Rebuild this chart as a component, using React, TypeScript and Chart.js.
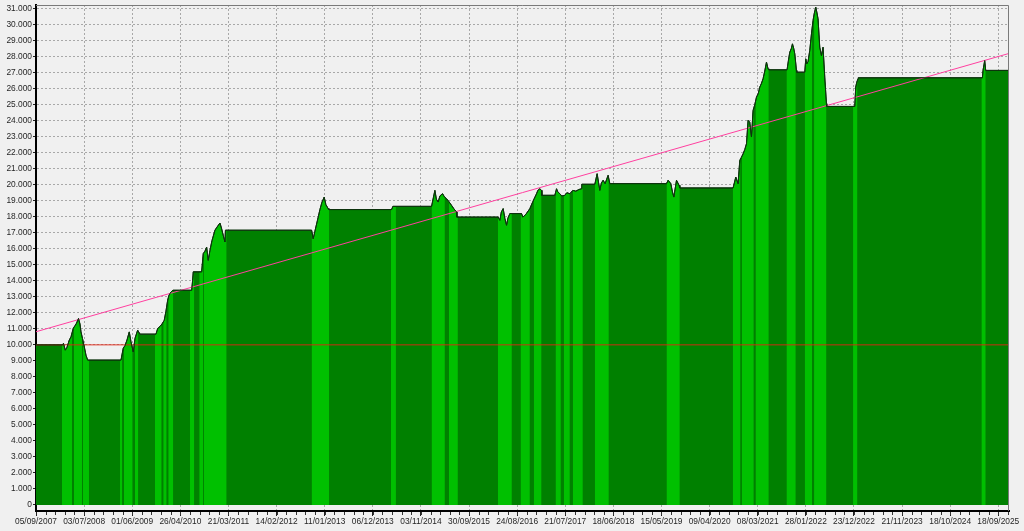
import React, { useEffect, useRef } from 'react';
import { Chart, registerables } from 'chart.js';

Chart.register(...registerables);

// ---- data ----
const DATE_LABELS = [
  '05/09/2007', '03/07/2008', '01/06/2009', '26/04/2010', '21/03/2011', '14/02/2012',
  '11/01/2013', '06/12/2013', '03/11/2014', '30/09/2015', '24/08/2016', '21/07/2017',
  '18/06/2018', '15/05/2019', '09/04/2020', '08/03/2021', '28/01/2022', '23/12/2022',
  '21/11/2023', '18/10/2024', '18/09/2025',
];
const BARS_PER_LABEL = 48.13;
const MINOR_PER_LABEL = 5;
const LAST_BAR = 973.3;

// equity curve: bar index and balance
const EQUITY_X = [
  0, 26.7, 27.5, 29.3, 31, 33.3, 35, 37.3, 39, 40.5, 42.5, 44, 45, 46.5, 48.3, 50, 51.7,
  85, 87.3, 89, 91, 93.3, 95, 97.3, 99, 101.7, 104,
  120, 121.7, 124, 126, 128.3, 130, 131.7, 133, 135, 137,
  155.7, 156.7, 157.3,
  165.7, 167.3, 169, 170.7, 172.3, 174, 176, 179, 181, 184, 185.5, 187.3, 189, 189.5,
  275.7, 277.3, 279, 282.3, 284, 286, 288.3, 290, 292.3, 293,
  355.7, 357,
  395.7, 399, 400.5, 402.3, 404, 406.7, 408.5, 410.7, 413, 415.7, 418, 420.7, 421,
  462.3, 464, 465.5, 467.3, 469, 470.7, 472, 474,
  485.7, 487, 490, 494, 497, 500.7, 502, 504, 505.7, 506,
  519, 520.7, 522, 524, 526, 529, 531, 534, 537, 540, 543, 545.7, 546,
  559, 561.3, 564, 565.5, 567.3, 569.3, 572.3, 574,
  630.7, 632.3, 635, 636.5, 638, 640.7, 643.3, 644,
  697.3, 700, 702.3, 704, 705.5, 707.3, 709, 710.7, 712.3, 714, 715.7, 717.3, 719, 720.7, 722.5, 724, 725.5,
  727.3, 729, 730.7, 732.3, 733,
  751.3, 752.5, 754, 755.5, 756.7, 758, 759, 760.7, 761,
  769, 770, 771, 772.3, 774, 775.7, 777.3, 778.5, 780, 781, 782.3, 784, 785.7, 787.3, 789, 790.7, 791,
  819, 820, 821, 822.3, 822.5,
  946.7, 947.3, 949, 950,
  973.3,
];
const EQUITY_Y = [
  10000, 10000, 10100, 9670, 9850, 10300, 10500, 11040, 11200, 11350, 11650, 11300, 10810, 10400, 9880, 9350, 9050,
  9050, 9800, 9950, 10300, 10810, 10200, 9560, 10400, 10920, 10670,
  10670, 11020, 11150, 11300, 11540, 12100, 12790, 13100, 13300, 13410,
  13410, 14040, 14560,
  14560, 15700, 15850, 16110, 15280, 15900, 16500, 17160, 17350, 17610, 17300, 16840, 16430, 17160,
  17160, 16630, 17100, 17980, 18450, 18900, 19230, 18750, 18510, 18450,
  18450, 18650,
  18650, 19650, 19100, 18920, 19300, 19440, 19250, 19130, 18950, 18710, 18500, 18300, 17980,
  17980, 17780, 18300, 18510, 17900, 17470, 17900, 18200,
  18200, 17980, 18150, 18510, 18950, 19440, 19650, 19750, 19650, 19340,
  19340, 19750, 19550, 19440, 19300, 19340, 19500, 19440, 19650, 19600, 19700, 19750, 20030,
  20030, 20690, 19650, 20100, 20280, 20070, 20590, 20070,
  20070, 20280, 20070, 19600, 19230, 20280, 19960, 19800,
  19800, 20480, 20070, 21520, 21700, 21930, 22200, 22560, 24020, 23900, 22980, 24640, 25000, 25470, 25700, 26100, 26300,
  26620, 27100, 27660, 27240, 27180,
  27180, 27700, 28280, 28500, 28800, 28500, 28180, 27140, 27030,
  27030, 27860, 27550, 27700, 28380, 29420, 30260, 30700, 31090, 30800, 30360, 28590, 28070, 28590, 26720, 25060, 24890,
  24890, 26100, 26400, 26620, 26680,
  26680, 27140, 27760, 27140,
  27140,
];

// periods with open trades (bar index start / end)
const ACTIVE_START = [
  26, 38, 47, 84, 88, 99, 119, 127.3, 132.3, 154, 163.3, 168, 275.7, 355, 395.7, 413,
  462, 484.7, 498, 519.7, 528, 537, 559, 630.7, 697, 706, 719.7, 750.7, 769, 778.3, 817.3, 945.7,
];
const ACTIVE_END = [
  36, 46, 53, 86.3, 96.7, 102.3, 125.7, 130.7, 137.3, 158.3, 167.3, 190.7, 293.3, 360, 409, 422,
  476, 494, 505.7, 525, 534, 547, 573, 644, 704.7, 718, 733, 760, 776.3, 790.7, 821.7, 950,
];

const START_BALANCE = 10000;
const TREND_FIRST = 10820;
const TREND_LAST = 28200;

const Y_MIN = -375;
const Y_MAX = 31225;
const Y_TOP_TICK = 31000;
const Y_STEP = 1000;

// ---- helpers ----
function equityAt(x: number): number {
  for (let i = 0; i < EQUITY_X.length - 1; i++) {
    const x0 = EQUITY_X[i], x1 = EQUITY_X[i + 1];
    if (x >= x0 && x <= x1) {
      if (x1 === x0) return EQUITY_Y[i + 1];
      return EQUITY_Y[i] + ((EQUITY_Y[i + 1] - EQUITY_Y[i]) * (x - x0)) / (x1 - x0);
    }
  }
  return EQUITY_Y[EQUITY_Y.length - 1];
}

function fmt(v: number): string {
  const s = Math.round(v).toString();
  return s.replace(/\B(?=(\d{3})+(?!\d))/g, '.');
}

const FONT = "'Liberation Sans', Arial, sans-serif";

const frame = {
  id: 'frame',
  afterDatasetsDraw(chart: any) {
    const { ctx, chartArea, scales } = chart;
    ctx.save();
    ctx.strokeStyle = '#7a7a7a';
    ctx.lineWidth = 1;
    ctx.beginPath();
    ctx.moveTo(chartArea.left, chartArea.top + 0.5);
    ctx.lineTo(chartArea.right - 0.5, chartArea.top + 0.5);
    ctx.lineTo(chartArea.right - 0.5, chartArea.bottom);
    ctx.stroke();
    // minor ticks under the date axis
    ctx.strokeStyle = '#333';
    ctx.beginPath();
    const step = BARS_PER_LABEL / MINOR_PER_LABEL;
    for (let v = step; v < LAST_BAR; v += step) {
      const px = Math.round(scales.x.getPixelForValue(v)) + 0.5;
      ctx.moveTo(px, chartArea.bottom + 1);
      ctx.lineTo(px, chartArea.bottom + 4);
    }
    ctx.stroke();
    ctx.restore();
  },
};

export default function App() {
  const ref = useRef<HTMLCanvasElement | null>(null);

  useEffect(() => {
    if (!ref.current) return;
    const equity = EQUITY_X.map((x, i) => ({ x, y: EQUITY_Y[i] }));
    const active: any[] = [];
    ACTIVE_START.forEach((a, k) => {
      const b = ACTIVE_END[k];
      active.push({ x: a, y: equityAt(a) });
      EQUITY_X.forEach((x, i) => {
        if (x > a && x < b) active.push({ x, y: EQUITY_Y[i] });
      });
      active.push({ x: b, y: equityAt(b) });
      active.push({ x: b + 0.01, y: null });
    });

    const chart = new Chart(ref.current, {
      type: 'line',
      data: {
        datasets: [
          {
            data: equity,
            borderColor: '#0d330d',
            borderWidth: 1,
            backgroundColor: '#008000',
            fill: 'origin',
            pointRadius: 0,
            order: 4,
          },
          {
            data: active,
            borderWidth: 0,
            borderColor: 'rgba(0,0,0,0)',
            backgroundColor: '#00c000',
            fill: 'origin',
            pointRadius: 0,
            spanGaps: false,
            order: 3,
          },
          {
            data: [{ x: 0, y: START_BALANCE }, { x: LAST_BAR, y: START_BALANCE }],
            borderColor: 'rgba(225,35,20,0.9)',
            borderWidth: 1,
            fill: false,
            pointRadius: 0,
            order: 2,
          },
          {
            data: [{ x: 0, y: TREND_FIRST }, { x: LAST_BAR, y: TREND_LAST }],
            borderColor: '#ff3f9f',
            borderWidth: 1,
            fill: false,
            pointRadius: 0,
            order: 1,
          },
          {
            data: equity,
            borderColor: '#0d330d',
            borderWidth: 1,
            fill: false,
            pointRadius: 0,
            order: 0,
          },
        ],
      },
      options: {
        animation: false,
        responsive: true,
        maintainAspectRatio: false,
        layout: { padding: { top: 5, right: 15, left: 0, bottom: 0 } },
        elements: { line: { tension: 0 } },
        plugins: {
          legend: { display: false },
          tooltip: { enabled: false },
          filler: { drawTime: 'beforeDatasetsDraw' },
        } as any,
        scales: {
          x: {
            type: 'linear',
            min: 0,
            max: LAST_BAR,
            afterBuildTicks: (scale: any) => {
              scale.ticks = DATE_LABELS.map((_, i) => ({ value: i * BARS_PER_LABEL }));
            },
            afterFit: (scale: any) => {
              scale.height = 20;
              scale.paddingLeft = 0;
              scale.paddingRight = 0;
            },
            ticks: {
              autoSkip: false,
              maxRotation: 0,
              minRotation: 0,
              padding: 1,
              color: '#262626',
              font: { family: FONT, size: 8.4 },
              callback: (_v: any, i: number) => DATE_LABELS[i],
            },
            grid: {
              color: '#a8a8a8',
              tickColor: '#222',
              tickLength: 5,
              drawTicks: true,
            },
            border: { display: true, color: '#000', width: 2, dash: [2, 2] },
          },
          y: {
            type: 'linear',
            min: Y_MIN,
            max: Y_MAX,
            afterBuildTicks: (scale: any) => {
              const t: any[] = [];
              for (let v = 0; v <= Y_TOP_TICK; v += Y_STEP) t.push({ value: v });
              scale.ticks = t;
            },
            afterFit: (scale: any) => {
              scale.width = 36;
              scale.paddingTop = 0;
              scale.paddingBottom = 0;
            },
            ticks: {
              padding: 1,
              color: '#262626',
              font: { family: FONT, size: 8.4 },
              callback: (v: any) => fmt(Number(v)),
            },
            grid: {
              color: '#a8a8a8',
              tickColor: '#222',
              tickLength: 3,
            },
            border: { display: true, color: '#000', width: 2, dash: [2, 2] },
          },
        },
      },
      plugins: [frame],
    });
    return () => chart.destroy();
  }, []);

  return (
    <div style={{ position: 'fixed', left: 0, top: 0, width: 1024, height: 531, background: '#f0f0f0' }}>
      <canvas ref={ref} />
    </div>
  );
}
